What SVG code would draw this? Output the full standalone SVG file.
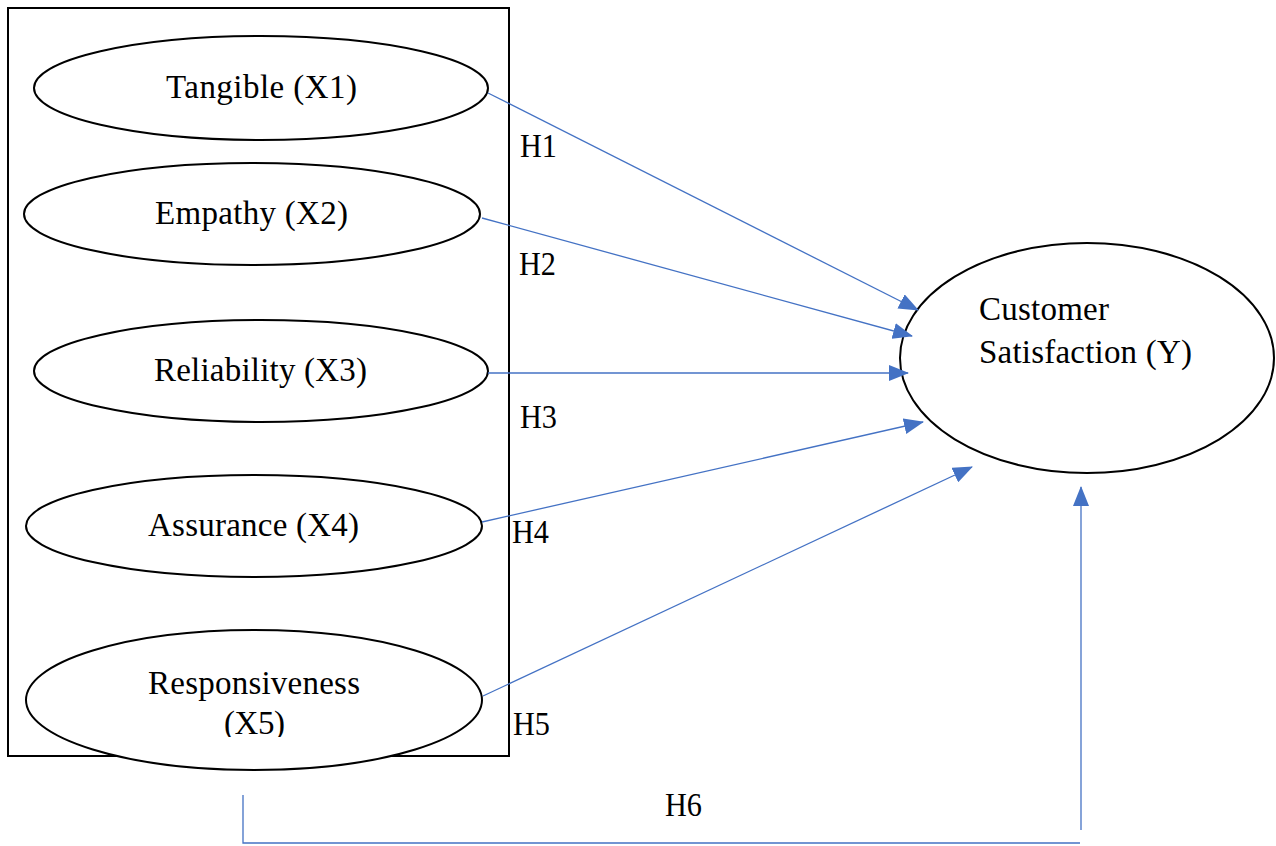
<svg xmlns="http://www.w3.org/2000/svg" width="1276" height="846" viewBox="0 0 1276 846">
<style>
.n{fill:#fff;stroke:#000;stroke-width:2}
.t{font-family:"Liberation Serif","Times New Roman",serif;font-size:33px;fill:#000}
.c{stroke:#4472C4;stroke-width:1.3;fill:none}
</style>
<defs>
<marker id="ah" viewBox="0 0 20 16" refX="19" refY="8" markerWidth="20" markerHeight="16" markerUnits="userSpaceOnUse" orient="auto">
<path d="M0,0 L20,8 L0,16 Z" fill="#4472C4"/>
</marker>
<clipPath id="cl5"><rect x="0" y="0" width="1276" height="737"/></clipPath>
</defs>
<rect width="1276" height="846" fill="#fff"/>
<rect id="frame" x="8" y="8" width="501" height="748" fill="none" stroke="#000" stroke-width="2"/>
<g id="x1"><ellipse class="n" cx="261" cy="88" rx="227" ry="52"/><text class="t" x="166" y="98" textLength="191" lengthAdjust="spacing">Tangible (X1)</text></g>
<g id="x2"><ellipse class="n" cx="252" cy="214" rx="228" ry="51"/><text class="t" x="155" y="224" textLength="193" lengthAdjust="spacing">Empathy (X2)</text></g>
<g id="x3"><ellipse class="n" cx="261" cy="371" rx="227" ry="51"/><text class="t" x="154" y="381" textLength="213" lengthAdjust="spacing">Reliability (X3)</text></g>
<g id="x4"><ellipse class="n" cx="254" cy="526" rx="228" ry="51"/><text class="t" x="148" y="536" textLength="211" lengthAdjust="spacing">Assurance (X4)</text></g>
<g id="x5"><ellipse class="n" cx="254" cy="700" rx="228" ry="70"/><g clip-path="url(#cl5)"><text class="t" x="148" y="694" textLength="212" lengthAdjust="spacing">Responsiveness</text><text class="t" x="224" y="734" textLength="61" lengthAdjust="spacing">(X5)</text></g></g>
<g id="y"><ellipse class="n" cx="1087" cy="358" rx="187" ry="115"/><text class="t" x="979" y="320" textLength="130" lengthAdjust="spacing">Customer</text><text class="t" x="979" y="363" textLength="213" lengthAdjust="spacing">Satisfaction (Y)</text></g>
<g id="connectors">
<line class="c" x1="488" y1="93" x2="918" y2="310" marker-end="url(#ah)"/>
<line class="c" x1="482" y1="218" x2="912" y2="336" marker-end="url(#ah)"/>
<line class="c" x1="488" y1="373" x2="908" y2="373" marker-end="url(#ah)"/>
<line class="c" x1="482" y1="522" x2="923" y2="422" marker-end="url(#ah)"/>
<line class="c" x1="483" y1="696" x2="972" y2="467" marker-end="url(#ah)"/>
<polyline class="c" points="243,795 243,843 1080,843"/>
<line class="c" x1="1081" y1="830" x2="1081" y2="487" marker-end="url(#ah)"/>
</g>
<g id="labels">
<text class="t" x="520" y="157" textLength="37" lengthAdjust="spacingAndGlyphs">H1</text>
<text class="t" x="519" y="275" textLength="37" lengthAdjust="spacingAndGlyphs">H2</text>
<text class="t" x="520" y="428" textLength="37" lengthAdjust="spacingAndGlyphs">H3</text>
<text class="t" x="512" y="543" textLength="37" lengthAdjust="spacingAndGlyphs">H4</text>
<text class="t" x="513" y="735" textLength="37" lengthAdjust="spacingAndGlyphs">H5</text>
<text class="t" x="665" y="816" textLength="37" lengthAdjust="spacingAndGlyphs">H6</text>
</g>
</svg>
